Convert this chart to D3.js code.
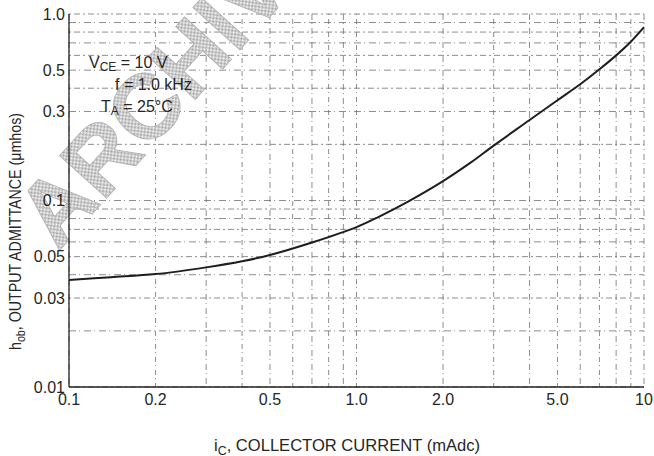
<!DOCTYPE html>
<html>
<head>
<meta charset="utf-8">
<script src="https://cdn.jsdelivr.net/npm/d3@7"></script>
<style>
  body { margin: 0; background: #fff; }
  svg text { font-family: "Liberation Sans", Arial, sans-serif; fill: #262626; }
</style>
</head>
<body>
<main></main>
<script>
// tamaño
const w = 654;
const h = 456;

// datos (Ic en mA, hob en umhos)
const corriente = [0.1, 0.14, 0.2, 0.3, 0.4, 0.5, 0.7, 1.0, 1.2, 1.5, 2.0, 2.5, 3.0, 4.0, 5.0, 6.0, 7.0, 8.0, 9.0, 10];
const admitancia = [0.0375, 0.0388, 0.0403, 0.0438, 0.0472, 0.051, 0.0595, 0.072, 0.082, 0.098, 0.127, 0.16, 0.197, 0.27, 0.345, 0.42, 0.505, 0.6, 0.71, 0.85];

// etiquetas de los ejes
const ticksX = [0.1, 0.2, 0.5, 1.0, 2.0, 5.0, 10];
const etiquetasX = ['0.1', '0.2', '0.5', '1.0', '2.0', '5.0', '10'];
const ticksY = [1.0, 0.5, 0.3, 0.1, 0.05, 0.03, 0.01];
const etiquetasY = ['1.0', '0.5', '0.3', '0.1', '0.05', '0.03', '0.01'];

const margen = { top: 14, right: 10, bottom: 69, left: 69 };

var svg = d3.select('main')
    .append('svg')
    .attr('width', w)
    .attr('height', h);

// patron punteado para la marca de agua
var defs = svg.append('defs');
var pat = defs.append('pattern')
    .attr('id', 'trama')
    .attr('width', 2)
    .attr('height', 2)
    .attr('patternUnits', 'userSpaceOnUse');
pat.append('rect').attr('width', 2).attr('height', 2).attr('fill', '#fff');
pat.append('rect').attr('width', 1).attr('height', 1).attr('fill', '#9a9a9a');
pat.append('rect').attr('x', 1).attr('y', 1).attr('width', 1).attr('height', 1).attr('fill', '#9a9a9a');

const x = d3.scaleLog()
    .domain([0.1, 10])
    .range([margen.left, w - margen.right]);

const y = d3.scaleLog()
    .domain([0.01, 1])
    .range([h - margen.bottom, margen.top]);

// rejilla
const rejilla = svg.append('g').attr('stroke', '#707070').attr('stroke-width', 0.8);

rejilla.selectAll('.vx')
    .data(x.ticks())
    .enter()
    .append('line')
    .attr('x1', (d) => x(d))
    .attr('x2', (d) => x(d))
    .attr('y1', y(1))
    .attr('y2', y(0.01))
    .attr('stroke-dasharray', (d, i) => i % 2 ? '1,4,5,3' : '6,3,1,4');

rejilla.selectAll('.hy')
    .data(y.ticks())
    .enter()
    .append('line')
    .attr('x1', x(0.1))
    .attr('x2', x(10))
    .attr('y1', (d) => y(d))
    .attr('y2', (d) => y(d))
    .attr('stroke-dasharray', (d, i) => i % 2 ? '7,3,1,4' : '2,3,6,3');

// marca de agua
svg.append('text')
    .attr('transform', 'translate(58,252) rotate(-48)')
    .attr('font-size', 92)
    .attr('font-weight', 'bold')
    .style('fill', 'url(#trama)')
    .attr('stroke', '#b0b0b0')
    .attr('stroke-width', 0.8)
    .text('ARCHIVE');

// ejes principales
svg.append('line')
    .attr('x1', x(0.1)).attr('x2', x(0.1))
    .attr('y1', y(1)).attr('y2', y(0.01))
    .attr('stroke', '#222').attr('stroke-width', 1.3);

svg.append('line')
    .attr('x1', x(0.1)).attr('x2', x(10))
    .attr('y1', y(0.01)).attr('y2', y(0.01))
    .attr('stroke', '#222').attr('stroke-width', 1.3);

// curva
const linea = d3.line()
    .x((d) => x(d[0]))
    .y((d) => y(d[1]))
    .curve(d3.curveCatmullRom.alpha(0.5));

svg.append('path')
    .datum(d3.zip(corriente, admitancia))
    .attr('fill', 'none')
    .attr('stroke', '#1e1e1e')
    .attr('stroke-width', 2)
    .attr('d', linea);

// etiquetas eje x
svg.selectAll('.tx')
    .data(ticksX)
    .enter()
    .append('text')
    .attr('x', (d) => x(d))
    .attr('y', 405)
    .attr('text-anchor', 'middle')
    .attr('font-size', 16)
    .text((d, i) => etiquetasX[i]);

// etiquetas eje y
svg.selectAll('.ty')
    .data(ticksY)
    .enter()
    .append('text')
    .attr('x', 65)
    .attr('y', (d) => y(d) + 5.5)
    .attr('text-anchor', 'end')
    .attr('font-size', 16)
    .text((d, i) => etiquetasY[i]);

// titulo eje x
var tx = svg.append('text')
    .attr('x', 214)
    .attr('y', 451)
    .attr('font-size', 16)
    .attr('textLength', 266)
    .attr('lengthAdjust', 'spacingAndGlyphs');
tx.append('tspan').text('i');
tx.append('tspan').attr('font-size', 12).attr('dy', 4).text('C');
tx.append('tspan').attr('dy', -4).text(', COLLECTOR CURRENT (mAdc)');

// titulo eje y
var ty = svg.append('text')
    .attr('transform', 'translate(21,350) rotate(-90)')
    .attr('font-size', 16)
    .attr('textLength', 237)
    .attr('lengthAdjust', 'spacingAndGlyphs');
ty.append('tspan').text('h');
ty.append('tspan').attr('font-size', 12).attr('dy', 4).text('ob');
ty.append('tspan').attr('dy', -4).text(', OUTPUT ADMITTANCE (\u03bcmhos)');

// condiciones
const notas = svg.append('g').attr('font-size', 16);

var n1 = notas.append('text').attr('x', 89).attr('y', 68);
n1.append('tspan').text('V');
n1.append('tspan').attr('font-size', 12).attr('dy', 3).text('CE');
n1.append('tspan').attr('dy', -3).text(' = 10 V');

notas.append('text').attr('x', 115).attr('y', 90).text('f = 1.0 kHz');

var n3 = notas.append('text').attr('x', 101).attr('y', 112);
n3.append('tspan').text('T');
n3.append('tspan').attr('font-size', 12).attr('dy', 3).text('A');
n3.append('tspan').attr('dy', -3).text(' = 25\u00b0C');
</script>
</body>
</html>
